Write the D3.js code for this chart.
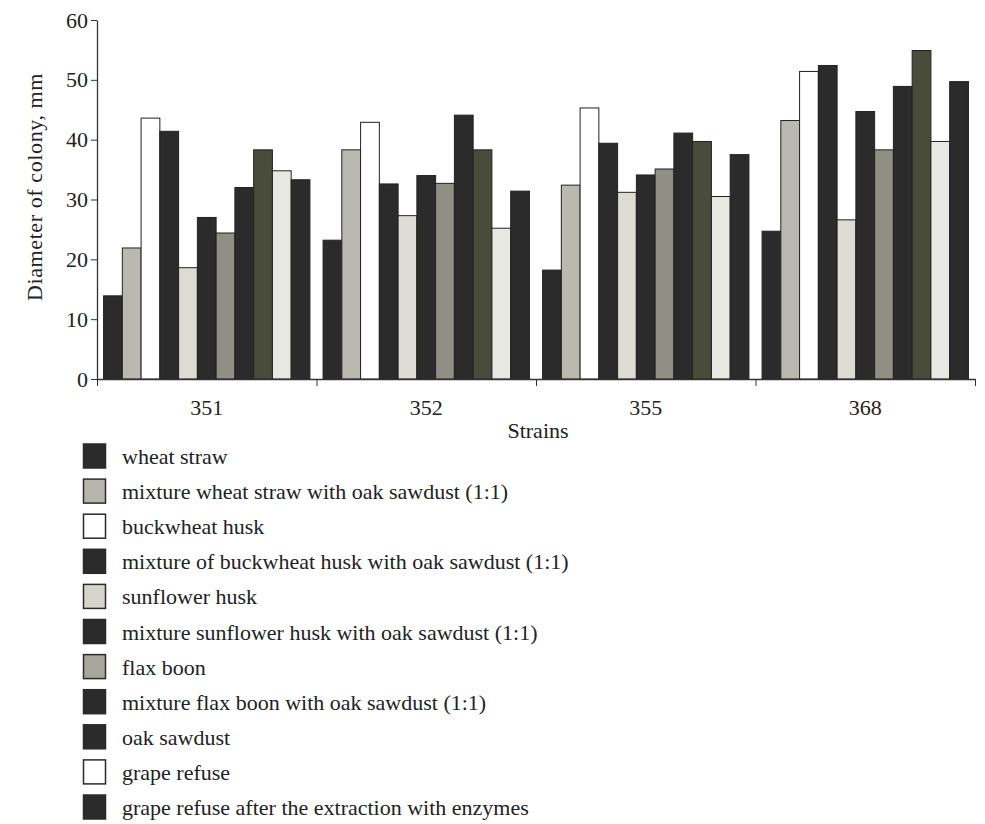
<!DOCTYPE html>
<html>
<head>
<meta charset="utf-8">
<script src="https://cdn.jsdelivr.net/npm/d3@7"></script>
<style>
  body { margin: 0; background: #fff; }
  svg { display: block; font-family: "Liberation Serif", "Times New Roman", serif; }
</style>
</head>
<body>
<svg id="chart" width="985" height="824"></svg>
<script>
// strains on the x axis
const strains = ["351", "352", "355", "368"];

// substrates, in bar order within each strain
const substrates = [
  "wheat straw",
  "mixture wheat straw with oak sawdust (1:1)",
  "buckwheat husk",
  "mixture of buckwheat husk with oak sawdust (1:1)",
  "sunflower husk",
  "mixture sunflower husk with oak sawdust (1:1)",
  "flax boon",
  "mixture flax boon with oak sawdust (1:1)",
  "oak sawdust",
  "grape refuse",
  "grape refuse after the extraction with enzymes"
];

// colony diameter (mm) per strain, one value per substrate
const strain351 = [13.9, 21.9, 43.6, 41.4, 18.6, 27.0, 24.4, 32.0, 38.3, 34.8, 33.3];
const strain352 = [23.2, 38.3, 42.9, 32.6, 27.3, 34.0, 32.7, 44.1, 38.3, 25.2, 31.4];
const strain355 = [18.2, 32.4, 45.3, 39.4, 31.2, 34.1, 35.1, 41.1, 39.7, 30.5, 37.5];
const strain368 = [24.7, 43.2, 51.4, 52.4, 26.6, 44.7, 38.3, 48.9, 54.9, 39.7, 49.7];

const yTicks = [0, 10, 20, 30, 40, 50, 60];

// bar fills as printed in the plot, and swatch fills as printed in the key
const barFill = ["#2b2b2b", "#b9b9b1", "#ffffff", "#2b2b2b", "#dcdcd5", "#2b2b2b",
                 "#8f8f85", "#2b2b2b", "#4a4c3b", "#e8e8e2", "#2b2b2b"];
const keyFill = ["#2b2b2b", "#b5b5ad", "#ffffff", "#2b2b2b", "#d5d5ce", "#2b2b2b",
                 "#a6a69c", "#2b2b2b", "#2b2b2b", "#ffffff", "#2b2b2b"];

const values = [strain351, strain352, strain355, strain368];

const svg = d3.select("#chart");
const plot = { left: 97, right: 975, top: 20, bottom: 379 };
const fontSize = 22;

const x0 = d3.scaleBand().domain(strains).range([plot.left, plot.right]).padding(0);
const x1 = d3.scaleBand()
  .domain(d3.range(substrates.length))
  .range([0, x0.bandwidth()])
  .paddingInner(0)
  .paddingOuter(0.35);
const y = d3.scaleLinear().domain([0, 60]).range([plot.bottom, plot.top]);

// bars
const groups = svg.selectAll(".strain")
  .data(values)
  .enter()
  .append("g")
  .attr("class", "strain")
  .attr("transform", (d, i) => `translate(${x0(strains[i])},0)`);

groups.selectAll("rect")
  .data(d => d)
  .enter()
  .append("rect")
  .attr("x", (d, i) => x1(i))
  .attr("y", d => y(d))
  .attr("width", x1.bandwidth())
  .attr("height", d => y(0) - y(d))
  .attr("fill", (d, i) => barFill[i])
  .attr("stroke", "#222")
  .attr("stroke-width", 1);

// y axis
const yAxis = svg.append("g")
  .attr("transform", `translate(${plot.left},0)`)
  .call(d3.axisLeft(y).tickValues(yTicks).tickSize(6).tickSizeOuter(0).tickPadding(3));
yAxis.select(".domain").attr("stroke", "#333").attr("stroke-width", 1.3);
yAxis.selectAll(".tick line").attr("stroke", "#333");
yAxis.selectAll("text")
  .attr("font-family", "Liberation Serif, serif")
  .attr("font-size", fontSize)
  .attr("fill", "#222");

// x axis: line with ticks at strain boundaries
const xEdges = d3.scaleLinear().domain([0, strains.length]).range([plot.left, plot.right]);
const xAxis = svg.append("g")
  .attr("transform", `translate(0,${plot.bottom})`)
  .call(d3.axisBottom(xEdges).ticks(strains.length).tickSize(7).tickSizeOuter(0).tickFormat(""));
xAxis.select(".domain").attr("stroke", "#333").attr("stroke-width", 1.3);
xAxis.selectAll(".tick line").attr("stroke", "#333");

svg.append("g")
  .selectAll("text")
  .data(strains)
  .enter()
  .append("text")
  .attr("x", d => x0(d) + x0.bandwidth() / 2)
  .attr("y", plot.bottom + 36)
  .attr("text-anchor", "middle")
  .attr("font-size", fontSize)
  .attr("fill", "#222")
  .text(d => d);

svg.append("text")
  .attr("x", (plot.left + plot.right) / 2 + 2)
  .attr("y", 438)
  .attr("text-anchor", "middle")
  .attr("font-size", fontSize)
  .attr("fill", "#222")
  .text("Strains");

svg.append("text")
  .attr("transform", "rotate(-90)")
  .attr("x", -187)
  .attr("y", 42)
  .attr("text-anchor", "middle")
  .attr("font-size", fontSize)
  .attr("letter-spacing", 0.6)
  .attr("fill", "#222")
  .text("Diameter of colony, mm");

// key
const key = svg.append("g").attr("transform", "translate(83,456)");
const rows = key.selectAll(".row")
  .data(substrates)
  .enter()
  .append("g")
  .attr("class", "row")
  .attr("transform", (d, i) => `translate(0,${i * 35.1})`);

rows.append("rect")
  .attr("x", 0.5)
  .attr("y", -12)
  .attr("width", 22)
  .attr("height", 24)
  .attr("fill", (d, i) => keyFill[i])
  .attr("stroke", "#2b2b2b")
  .attr("stroke-width", 1.5);

rows.append("text")
  .attr("x", 39)
  .attr("y", 8)
  .attr("font-size", fontSize)
  .attr("fill", "#222")
  .text(d => d);
</script>
</body>
</html>
